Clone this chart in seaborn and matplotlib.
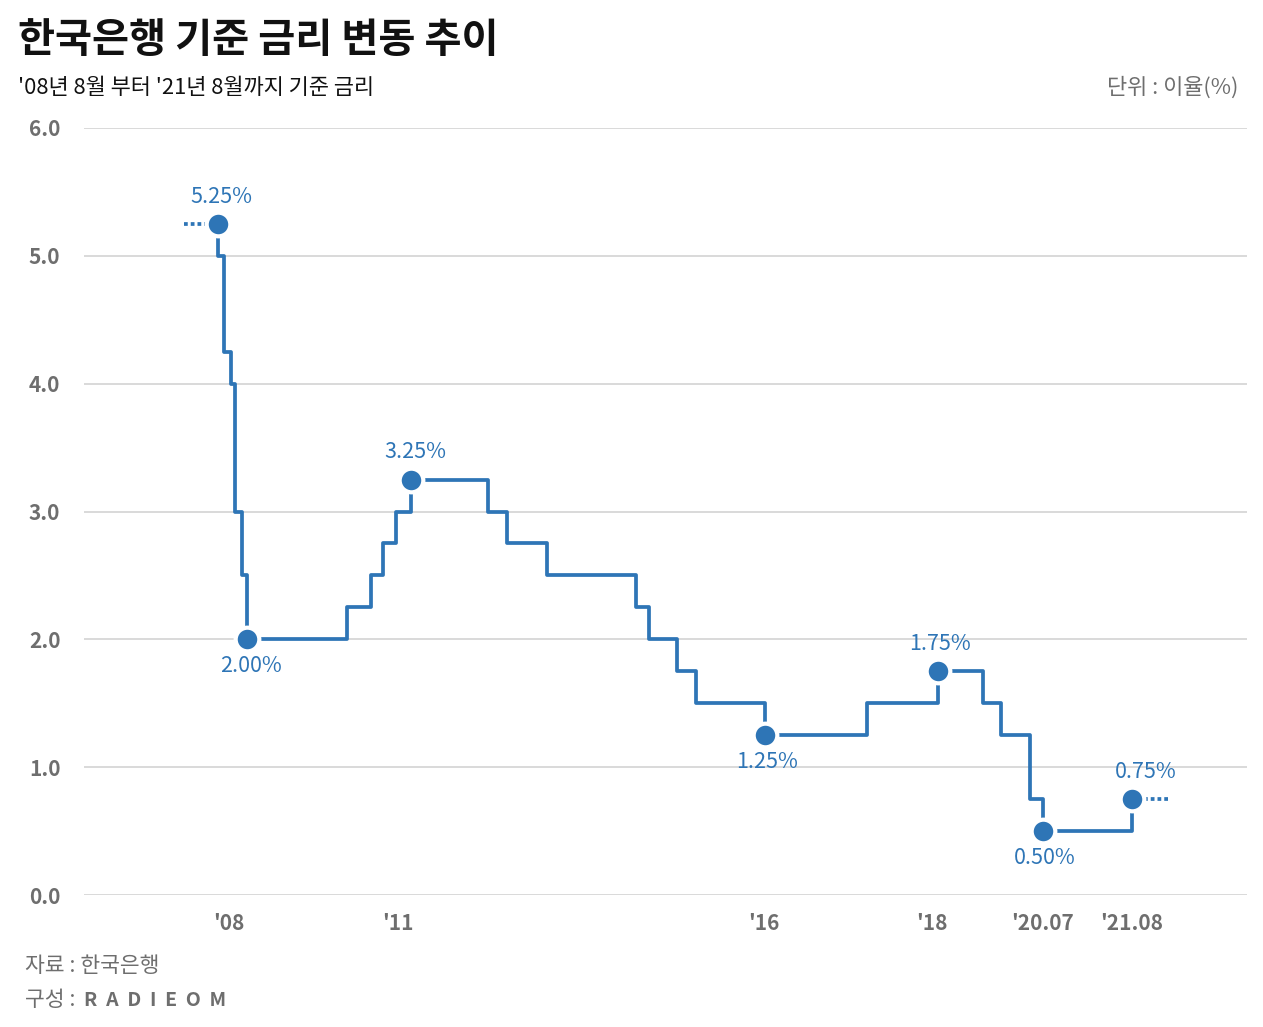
import matplotlib
matplotlib.use("Agg")
import matplotlib.pyplot as plt
import seaborn as sns
import pandas as pd
import numpy as np

# ---- data ----
change_dates = ["2008-09-10", "2008-09-13", "2008-10-12", "2008-11-17", "2008-12-11",
                "2009-01-15", "2009-02-12", "2010-07-14", "2010-11-12", "2011-01-13",
                "2011-03-22", "2011-06-10", "2012-07-12", "2012-10-15", "2013-05-12",
                "2014-08-14", "2014-10-20", "2015-03-18", "2015-06-20", "2016-06-15",
                "2017-11-25", "2018-11-25", "2019-07-18", "2019-10-18", "2020-03-17",
                "2020-05-22", "2021-08-26"]
rates = [5.25, 5.00, 4.25, 4.00, 3.00, 2.50, 2.00, 2.25, 2.50, 2.75, 3.00, 3.25, 3.00,
         2.75, 2.50, 2.25, 2.00, 1.75, 1.50, 1.25, 1.50, 1.75, 1.50, 1.25, 0.75, 0.50, 0.75]
# key points that are marked and labelled (index into the series, label, above?)
key_idx = [0, 6, 11, 19, 21, 25, 26]
key_labels = ["5.25%", "2.00%", "3.25%", "1.25%", "1.75%", "0.50%", "0.75%"]
key_above = [True, False, True, False, True, False, True]
key_dx = [4, 4, 4, 2, 2, 2, 14]
tick_dates = ["2008-11-06", "2011-04-01", "2016-06-06", "2018-10-27", "2020-05-22", "2021-08-26"]
tick_labels = ["'08", "'11", "'16", "'18", "'20.07", "'21.08"]
y_ticks = [0.0, 1.0, 2.0, 3.0, 4.0, 5.0, 6.0]


def dec_year(s):
    d = pd.to_datetime(pd.Series(s))
    return (d.dt.year + (d.dt.dayofyear - 1) / 365.25).to_numpy()


df = pd.DataFrame({"t": dec_year(change_dates), "rate": rates})
tick_pos = dec_year(tick_dates)

BLUE = "#2E75B6"
GRAY = "#6E6E6E"
GRID = "#D9D9D9"

sns.set_theme(style="white")
plt.rcParams["font.family"] = ["Noto Sans CJK KR", "DejaVu Sans"]

fig = plt.figure(figsize=(12.63, 10.27), dpi=100)
ax = fig.add_axes([84 / 1263, (1027 - 895) / 1027, (1247 - 84) / 1263, (895 - 128) / 1027])

sns.lineplot(data=df, x="t", y="rate", ax=ax, drawstyle="steps-post", estimator=None,
             color=BLUE, linewidth=2.7, zorder=3)

# dotted extensions
t0, r0 = df["t"].iloc[0], df["rate"].iloc[0]
t1, r1 = df["t"].iloc[-1], df["rate"].iloc[-1]
ax.plot([t0 - 0.48, t0 - 0.14], [r0, r0], color=BLUE, linewidth=2.7,
        linestyle=(0, (1.0, 0.8)), dash_capstyle="butt", zorder=3)
ax.plot([t1 + 0.17, t1 + 0.51], [r1, r1], color=BLUE, linewidth=2.7,
        linestyle=(0, (1.0, 0.8)), dash_capstyle="butt", zorder=3)

kdf = df.iloc[key_idx]
sns.scatterplot(data=kdf, x="t", y="rate", ax=ax, color=BLUE, s=290,
                edgecolor="white", linewidth=3, zorder=5, legend=False)

for (i, lab, above, dx) in zip(key_idx, key_labels, key_above, key_dx):
    ax.annotate(lab, (df["t"].iloc[i], df["rate"].iloc[i]),
                xytext=(dx * 0.72, 19.5 if above else -19.5), textcoords="offset points",
                ha="center", va="center", fontsize=15.5, color=BLUE, zorder=6)

ax.set_xlim(2006.80, 2023.28)
ax.set_ylim(0, 6)
ax.set_yticks(y_ticks)
ax.set_yticklabels([f"{v:.1f}" for v in y_ticks], fontsize=15, fontweight="bold", color=GRAY)
ax.set_xticks(tick_pos)
ax.set_xticklabels(tick_labels, fontsize=15, fontweight="bold", color=GRAY)
ax.tick_params(axis="y", length=0, pad=17)
ax.tick_params(axis="x", length=0, pad=13)
ax.set_xlabel("")
ax.set_ylabel("")
ax.grid(axis="y", color=GRID, linewidth=1.4)
ax.grid(axis="x", visible=False)
for sp in ax.spines.values():
    sp.set_visible(False)
ax.set_facecolor("white")

# texts
fig.text(18 / 1263, 1 - 40 / 1027, "한국은행 기준 금리 변동 추이", fontsize=29, fontweight="bold",
         color="#111111", ha="left", va="center")
fig.text(18 / 1263, 1 - 88 / 1027, "'08년 8월 부터 '21년 8월까지 기준 금리", fontsize=15.8,
         color="#111111", ha="left", va="center")
fig.text(1238 / 1263, 1 - 88 / 1027, "단위 : 이율(%)", fontsize=15.8,
         color=GRAY, ha="right", va="center")
fig.text(25 / 1263, 1 - 966 / 1027, "자료 : 한국은행", fontsize=15.5,
         color=GRAY, ha="left", va="center")
fig.text(25 / 1263, 1 - 1000 / 1027, "구성 :", fontsize=15.5,
         color=GRAY, ha="left", va="center")
fig.text(84 / 1263, 1 - 1000 / 1027, "R  A  D  I  E  O  M", fontsize=14, fontweight="bold",
         color=GRAY, ha="left", va="center")

fig.savefig("out.png", dpi=100, facecolor="white")
